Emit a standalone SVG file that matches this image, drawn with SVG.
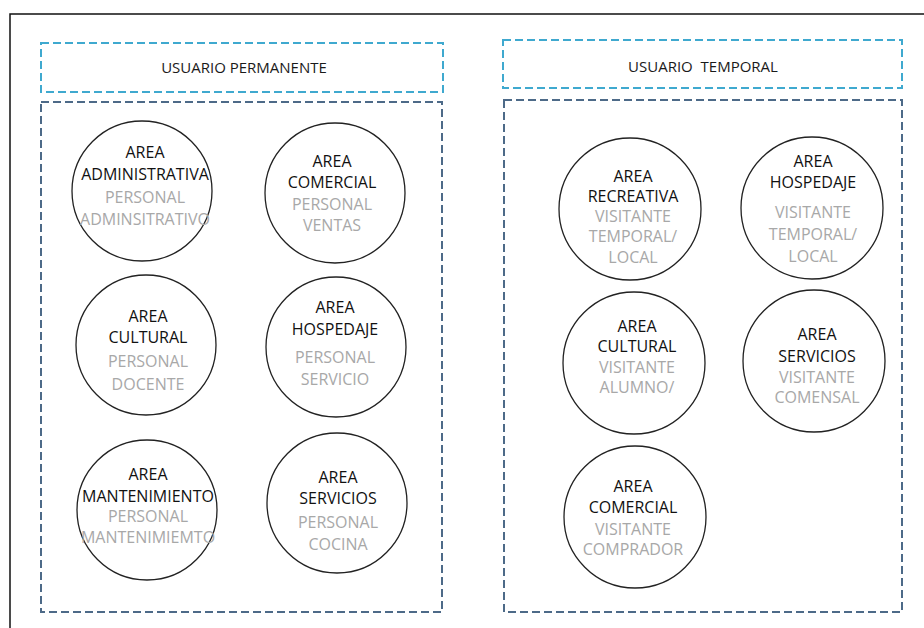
<svg xmlns="http://www.w3.org/2000/svg" width="924" height="628" viewBox="0 0 924 628">
<style>
.frame{fill:none;stroke:#111;stroke-width:1.5}
.hdr{fill:none;stroke:#3fa9cf;stroke-width:2;stroke-dasharray:8 4}
.box{fill:none;stroke:#4d6a88;stroke-width:2;stroke-dasharray:8 4}
.c{fill:#fff;stroke:#222;stroke-width:1.3}
text{font-family:"Open Sans","Noto Sans","DejaVu Sans",sans-serif;font-size:16px;text-anchor:middle}
.t{fill:#111}
.g{fill:#a8a8a8}
.h{fill:#1a1a1a;font-size:15px}
</style>
<rect width="924" height="628" fill="#fff"/>
<rect class="frame" x="10" y="14" width="940" height="640"/>
<g id="perm-header"><rect class="hdr" x="41" y="43" width="402" height="49"/><text class="h" x="244" y="73">USUARIO PERMANENTE</text></g>
<g id="temp-header"><rect class="hdr" x="503" y="40" width="399" height="48"/><text class="h" x="703" y="72" xml:space="preserve">USUARIO  TEMPORAL</text></g>
<g id="perm-box"><rect class="box" x="41" y="102" width="401" height="510"/></g>
<g id="temp-box"><rect class="box" x="504" y="100" width="398" height="512"/></g>
<g id="connectors"></g>
<g id="p-admin"><circle class="c" cx="142" cy="191" r="70"/><text class="t" x="145" y="158">AREA</text><text class="t" x="145" y="180">ADMINISTRATIVA</text><text class="g" x="145" y="203">PERSONAL</text><text class="g" x="145" y="225">ADMINSITRATIVO</text></g>
<g id="p-comercial"><circle class="c" cx="335" cy="193" r="70"/><text class="t" x="332" y="167">AREA</text><text class="t" x="332" y="188">COMERCIAL</text><text class="g" x="332" y="210">PERSONAL</text><text class="g" x="332" y="231">VENTAS</text></g>
<g id="p-cultural"><circle class="c" cx="146" cy="345" r="70"/><text class="t" x="148" y="322">AREA</text><text class="t" x="148" y="343">CULTURAL</text><text class="g" x="148" y="367">PERSONAL</text><text class="g" x="148" y="390">DOCENTE</text></g>
<g id="p-hospedaje"><circle class="c" cx="336" cy="347" r="70"/><text class="t" x="335" y="313">AREA</text><text class="t" x="335" y="335">HOSPEDAJE</text><text class="g" x="335" y="363">PERSONAL</text><text class="g" x="335" y="385">SERVICIO</text></g>
<g id="p-mantenimiento"><circle class="c" cx="147" cy="510" r="70"/><text class="t" x="148" y="480">AREA</text><text class="t" x="148" y="502">MANTENIMIENTO</text><text class="g" x="148" y="522">PERSONAL</text><text class="g" x="148" y="543">MANTENIMIEMTO</text></g>
<g id="p-servicios"><circle class="c" cx="337" cy="503" r="70"/><text class="t" x="338" y="483">AREA</text><text class="t" x="338" y="504">SERVICIOS</text><text class="g" x="338" y="528">PERSONAL</text><text class="g" x="338" y="550">COCINA</text></g>
<g id="t-recreativa"><circle class="c" cx="630" cy="209" r="71"/><text class="t" x="633" y="182">AREA</text><text class="t" x="633" y="202">RECREATIVA</text><text class="g" x="633" y="222">VISITANTE</text><text class="g" x="633" y="242">TEMPORAL/</text><text class="g" x="633" y="263">LOCAL</text></g>
<g id="t-hospedaje"><circle class="c" cx="812" cy="208" r="71"/><text class="t" x="813" y="167">AREA</text><text class="t" x="813" y="188">HOSPEDAJE</text><text class="g" x="813" y="218">VISITANTE</text><text class="g" x="813" y="240">TEMPORAL/</text><text class="g" x="813" y="262">LOCAL</text></g>
<g id="t-cultural"><circle class="c" cx="634" cy="363" r="71"/><text class="t" x="637" y="332">AREA</text><text class="t" x="637" y="352">CULTURAL</text><text class="g" x="637" y="373">VISITANTE</text><text class="g" x="637" y="393">ALUMNO/</text></g>
<g id="t-servicios"><circle class="c" cx="814" cy="361" r="71"/><text class="t" x="817" y="340">AREA</text><text class="t" x="817" y="362">SERVICIOS</text><text class="g" x="817" y="383">VISITANTE</text><text class="g" x="817" y="403">COMENSAL</text></g>
<g id="t-comercial"><circle class="c" cx="635" cy="517" r="71"/><text class="t" x="633" y="492">AREA</text><text class="t" x="633" y="513">COMERCIAL</text><text class="g" x="633" y="535">VISITANTE</text><text class="g" x="633" y="555">COMPRADOR</text></g>
</svg>
